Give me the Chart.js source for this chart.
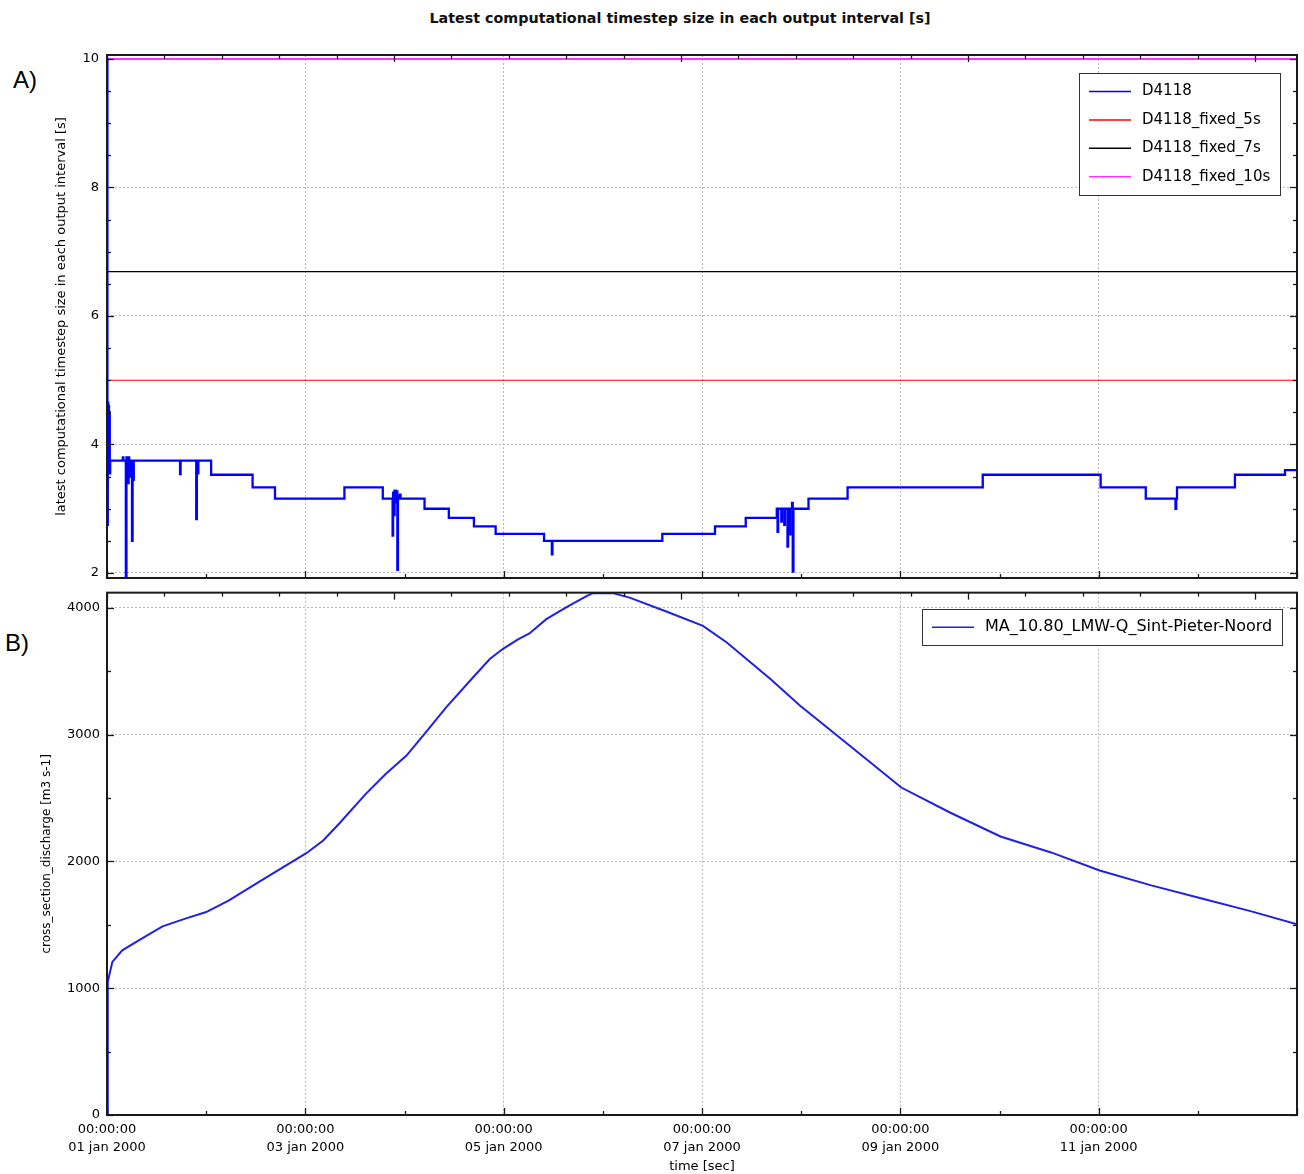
<!DOCTYPE html>
<html>
<head>
<meta charset="utf-8">
<script src="https://cdn.jsdelivr.net/npm/chart.js@4.4.1/dist/chart.umd.min.js"></script>
<style>
  html, body { margin: 0; padding: 0; background: #fff; }
  body { width: 1304px; height: 1174px; position: relative; overflow: hidden; font-family: "DejaVu Sans", sans-serif; }
  #mainTitle { position: absolute; left: 0; top: 9px; width: 1360px; text-align: center; font: bold 14.3px "DejaVu Sans", sans-serif; line-height: 18px; color: #111; }
  .panel { position: absolute; font: 24px "Liberation Sans", Arial, sans-serif; line-height: 28px; color: #000; }
  #cA { position: absolute; left: 0; top: 0; }
  #cB { position: absolute; left: 0; top: 585px; }
</style>
</head>
<body>
<div id="mainTitle">Latest computational timestep size in each output interval [s]</div>
<div class="panel" style="left:13px;top:66px;">A)</div>
<div class="panel" style="left:5px;top:629px;">B)</div>
<canvas id="cA" width="1304" height="588"></canvas>
<canvas id="cB" width="1304" height="589"></canvas>
<script>
// ---------------- data ----------------
// time in days since 01 jan 2000 00:00:00
const xDateLabels = ['01 jan 2000', '03 jan 2000', '05 jan 2000', '07 jan 2000', '09 jan 2000', '11 jan 2000'];
const xTimeLabel = '00:00:00';
const topTickStep = 0.5788;   // secondary tick spacing on the upper frame (days)
const yTicksA = [2, 2.5, 3, 3.5, 4, 4.5, 5, 5.5, 6, 6.5, 7, 7.5, 8, 8.5, 9, 9.5, 10];
const yTicksB = [0, 500, 1000, 1500, 2000, 2500, 3000, 3500, 4000];

// Panel A: latest computational timestep [s]
const d4118X = [0, 0.004, 0.008, 0.012, 0.016, 0.02, 0.024, 0.028, 0.032,
  0.16, 0.165, 0.19, 0.196, 0.2, 0.212, 0.218, 0.224, 0.232, 0.238, 0.252, 0.258, 0.264, 0.27,
  0.737, 0.742, 0.9, 0.906, 0.916, 0.921,
  1.05, 1.468, 1.694, 2.394, 2.781,
  2.88, 2.885, 2.895, 2.9, 2.91, 2.915, 2.928, 2.934, 2.94, 2.955, 2.96,
  3.202, 3.447, 3.70, 3.919, 4.407, 4.486, 4.492,
  5.6, 6.131, 6.441, 6.754,
  6.762, 6.768, 6.8, 6.806, 6.83, 6.836, 6.862, 6.868, 6.885, 6.891, 6.908, 6.915, 6.922,
  7.074, 7.468, 8.831, 10.02, 10.475, 10.775, 10.782, 10.79, 11.374, 11.879, 12];
const d4118Y = [10, 2.75, 4.65, 3.6, 4.6, 3.55, 4.5, 3.55, 3.75,
  3.8, 3.75, 1.9, 3.8, 3.75, 3.4, 3.8, 3.75, 3.5, 3.75, 2.5, 3.75, 3.45, 3.75,
  3.54, 3.75, 2.84, 3.75, 3.55, 3.75,
  3.529, 3.333, 3.158, 3.333, 3.158,
  2.58, 3.25, 2.9, 3.28, 3.1, 3.27, 2.05, 3.2, 3.158, 3.22, 3.158,
  3.0, 2.857, 2.727, 2.609, 2.5, 2.29, 2.5,
  2.609, 2.727, 2.857, 3.0,
  2.64, 3.0, 2.8, 3.0, 2.75, 3.0, 2.41, 3.0, 2.6, 3.0, 3.09, 2.02, 3.0,
  3.158, 3.333, 3.529, 3.333, 3.158, 3.0, 3.158, 3.333, 3.529, 3.6, 3.6];
const fixedX = [0, 12];
const fixed5Y = [5, 5];
const fixed7Y = [6.69, 6.69];
const fixed10Y = [10, 10];

// Panel B: cross section discharge [m3 s-1]
const dischargeX = [0, 0.008, 0.025, 0.054, 0.154, 0.32, 0.56, 0.79, 1.0, 1.23, 1.57, 2.01, 2.18, 2.34,
  2.61, 2.81, 3.02, 3.20, 3.42, 3.69, 3.86, 3.99, 4.14, 4.26, 4.43, 4.63, 4.84, 4.90, 5.05, 5.10,
  5.27, 5.64, 6.01, 6.25, 6.69, 6.99, 7.49, 8.01, 8.50, 9.01, 9.52, 10.01, 10.53, 11.03, 11.54, 12.0];
const dischargeY = [0, 1050, 1110, 1207, 1299, 1378, 1488, 1549, 1601, 1693, 1856, 2065, 2165, 2297,
  2533, 2690, 2835, 3005, 3215, 3451, 3596, 3675, 3750, 3798, 3911, 4003, 4094, 4116, 4118, 4116,
  4081, 3971, 3858, 3727, 3439, 3228, 2913, 2583, 2386, 2197, 2071, 1929, 1811, 1709, 1606, 1504];

// ---------------- helpers ----------------
const pts = (xs, ys) => xs.map((x, i) => ({ x: x, y: ys[i] }));
const FONT = '"DejaVu Sans", sans-serif';
const GRID = '#b8b8b8';
const isMult = (v, m) => Math.abs(v / m - Math.round(v / m)) < 1e-6;

// frame, inner tick marks and boxed legend
const decor = {
  id: 'decor',
  afterDatasetsDraw(chart, args, o) {
    const { ctx, chartArea: a, scales: { x, y } } = chart;
    const seg = (x1, y1, x2, y2) => { ctx.beginPath(); ctx.moveTo(x1, y1); ctx.lineTo(x2, y2); ctx.stroke(); };
    ctx.save();
    ctx.strokeStyle = '#1a1a1a';
    ctx.lineWidth = 1.3;
    y.ticks.forEach(t => {
      const py = Math.round(y.getPixelForValue(t.value)) + 0.5;
      const L = isMult(t.value, o.yMajor) ? 7 : 4;
      seg(a.left, py, a.left + L, py);
      seg(a.right, py, a.right - L, py);
    });
    x.ticks.forEach(t => {
      const px = Math.round(x.getPixelForValue(t.value)) + 0.5;
      const L = isMult(t.value, 2) ? 7 : 4;
      seg(px, a.bottom, px, a.bottom - L);
    });
    for (let k = 0; k * topTickStep <= 12 + 1e-9; k++) {
      const px = Math.round(x.getPixelForValue(k * topTickStep)) + 0.5;
      const L = k % 5 === 0 ? 7 : 4;
      seg(px, a.top, px, a.top + L);
    }
    ctx.lineWidth = 2;
    ctx.strokeRect(a.left, a.top, a.right - a.left, a.bottom - a.top);

    // legend
    const lg = o.legend;
    ctx.fillStyle = '#fff';
    ctx.fillRect(lg.left, lg.top, lg.right - lg.left, lg.bottom - lg.top);
    ctx.strokeStyle = '#333';
    ctx.lineWidth = 1;
    ctx.strokeRect(lg.left + 0.5, lg.top + 0.5, lg.right - lg.left, lg.bottom - lg.top);
    ctx.font = lg.font;
    ctx.textBaseline = 'middle';
    ctx.textAlign = 'left';
    chart.data.datasets.forEach((ds, i) => {
      const ry = lg.firstY + i * lg.rowH;
      ctx.strokeStyle = ds.borderColor;
      ctx.lineWidth = 1.5;
      seg(lg.x1, ry, lg.x2, ry);
      ctx.fillStyle = '#000';
      ctx.fillText(ds.label, lg.textX, ry);
    });
    ctx.restore();
  }
};

const commonX = (showLabels) => ({
  type: 'linear', min: 0, max: 12,
  ticks: {
    display: showLabels, stepSize: 1, autoSkip: false, maxRotation: 0, minRotation: 0,
    padding: 6, color: '#000', font: { family: FONT, size: 13, lineHeight: 1.385 },
    callback: v => (isMult(v, 2) && v < 12) ? [xTimeLabel, xDateLabels[Math.round(v / 2)]] : ''
  },
  grid: {
    drawTicks: false,
    color: c => (isMult(c.tick.value, 2) && c.tick.value > 0 && c.tick.value < 12) ? GRID : 'rgba(0,0,0,0)',
    lineWidth: 1
  },
  border: { display: false, dash: [2, 2] }
});

// ---------------- panel A ----------------
new Chart(document.getElementById('cA'), {
  type: 'line',
  data: {
    datasets: [
      { label: 'D4118', data: pts(d4118X, d4118Y), borderColor: '#0000ff', borderWidth: 2.3, stepped: 'before', pointRadius: 0, fill: false },
      { label: 'D4118_fixed_5s', data: pts(fixedX, fixed5Y), borderColor: '#ff0000', borderWidth: 1.2, pointRadius: 0, fill: false },
      { label: 'D4118_fixed_7s', data: pts(fixedX, fixed7Y), borderColor: '#000000', borderWidth: 1.2, pointRadius: 0, fill: false },
      { label: 'D4118_fixed_10s', data: pts(fixedX, fixed10Y), borderColor: '#ff33ff', borderWidth: 2, pointRadius: 0, fill: false }
    ]
  },
  options: {
    responsive: false, animation: false, devicePixelRatio: 1,
    layout: { padding: { left: 0, right: 7, top: 55, bottom: 0 } },
    plugins: {
      legend: { display: false }, tooltip: { enabled: false }, title: { display: false },
      decor: { yMajor: 2, legend: { left: 1079, top: 73, right: 1280, bottom: 195, firstY: 91.5, rowH: 28.4, x1: 1089, x2: 1131, textX: 1142, font: '15px ' + FONT } }
    },
    scales: {
      x: Object.assign(commonX(false), { afterFit: s => { s.height = 10; } }),
      y: {
        type: 'linear', min: 1.922, max: 10.062,
        afterBuildTicks: s => { s.ticks = yTicksA.map(v => ({ value: v })); },
        ticks: {
          autoSkip: false, padding: 8, color: '#000',
          font: { family: FONT, size: 13, lineHeight: 0.1 },
          callback: v => isMult(v, 2) ? String(Math.round(v)) : ''
        },
        grid: { drawTicks: false, color: c => (isMult(c.tick.value, 2) && c.tick.value < 10) ? GRID : 'rgba(0,0,0,0)' },
        border: { display: false, dash: [2, 2] },
        title: { display: true, text: 'latest computational timestep size in each output interval [s]', color: '#000', font: { family: FONT, size: 13 }, padding: { top: 54, bottom: 0 } },
        afterFit: s => { s.width = 107; }
      }
    }
  },
  plugins: [decor]
});

// ---------------- panel B ----------------
new Chart(document.getElementById('cB'), {
  type: 'line',
  data: {
    datasets: [
      { label: 'MA_10.80_LMW-Q_Sint-Pieter-Noord', data: pts(dischargeX, dischargeY), borderColor: '#2020e6', borderWidth: 2, pointRadius: 0, fill: false, tension: 0 }
    ]
  },
  options: {
    responsive: false, animation: false, devicePixelRatio: 1,
    layout: { padding: { left: 0, right: 7, top: 7, bottom: 0 } },
    plugins: {
      legend: { display: false }, tooltip: { enabled: false }, title: { display: false },
      decor: { yMajor: 1000, legend: { left: 922, top: 24, right: 1282, bottom: 60, firstY: 42.3, rowH: 28, x1: 932, x2: 974, textX: 985, font: '16px ' + FONT } }
    },
    scales: {
      x: Object.assign(commonX(true), {
        title: { display: true, text: 'time [sec]', color: '#000', font: { family: FONT, size: 13 }, padding: { top: 0, bottom: 0 } },
        afterFit: s => { s.height = 59; }
      }),
      y: {
        type: 'linear', min: 0, max: 4120,
        afterBuildTicks: s => { s.ticks = yTicksB.map(v => ({ value: v })); },
        ticks: {
          autoSkip: false, padding: 7, color: '#000',
          font: { family: FONT, size: 13, lineHeight: 0.1 },
          callback: v => isMult(v, 1000) ? String(Math.round(v)) : ''
        },
        grid: { drawTicks: false, color: c => (isMult(c.tick.value, 1000) && c.tick.value > 0) ? GRID : 'rgba(0,0,0,0)' },
        border: { display: false, dash: [2, 2] },
        title: { display: true, text: 'cross_section_discharge [m3 s-1]', color: '#000', font: { family: FONT, size: 12 }, padding: { top: 40, bottom: 0 } },
        afterFit: s => { s.width = 107; }
      }
    }
  },
  plugins: [decor]
});
</script>
</body>
</html>
